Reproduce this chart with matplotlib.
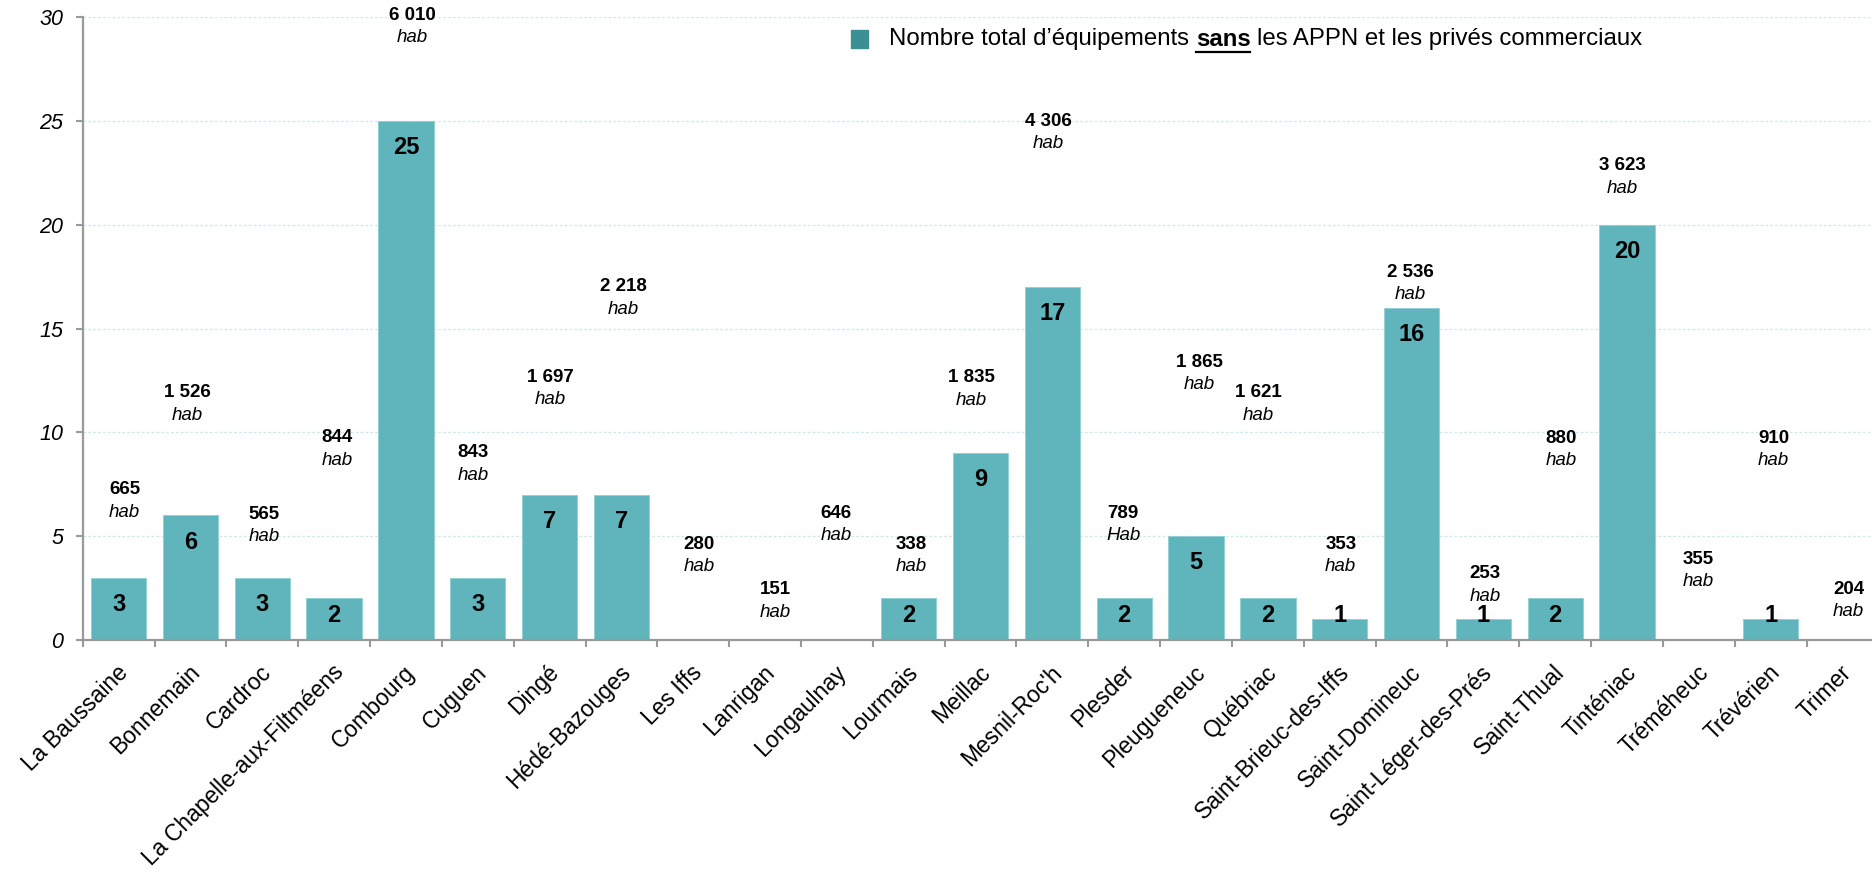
import matplotlib
matplotlib.use("Agg")
import matplotlib.pyplot as plt
from matplotlib.patches import Rectangle
from matplotlib.lines import Line2D
import matplotlib.transforms as mtransforms
import numpy as np

plt.rcParams["font.family"] = ["Liberation Sans", "DejaVu Sans"]

# ---------------- data ----------------
communes = [
    "La Baussaine", "Bonnemain", "Cardroc", "La Chapelle-aux-Filtméens",
    "Combourg", "Cuguen", "Dingé", "Hédé-Bazouges", "Les Iffs", "Lanrigan",
    "Longaulnay", "Lourmais", "Meillac", "Mesnil-Roc'h", "Plesder",
    "Pleugueneuc", "Québriac", "Saint-Brieuc-des-Iffs", "Saint-Domineuc",
    "Saint-Léger-des-Prés", "Saint-Thual", "Tinténiac", "Tréméheuc",
    "Trévérien", "Trimer",
]
equipements = [3, 6, 3, 2, 25, 3, 7, 7, 0, 0, 0, 2, 9, 17, 2, 5, 2, 1, 16, 1,
               2, 20, 0, 1, 0]
population = [665, 1526, 565, 844, 6010, 843, 1697, 2218, 280, 151, 646, 338,
              1835, 4306, 789, 1865, 1621, 353, 2536, 253, 880, 3623, 355,
              910, 204]
unit_labels = ["hab"] * 14 + ["Hab"] + ["hab"] * 10
legend_parts = ["Nombre total d’équipements", "sans",
                "les APPN et les privés commerciaux"]
yticks = [0, 5, 10, 15, 20, 25, 30]

# placement of population annotations (manual in the original chart)
pop_label_y = [7.23, 11.91, 6.07, 9.75, 30.1, 9.02, 12.65, 17.02, 4.62, 2.42,
               6.11, 4.61, 12.64, 24.98, 6.11, 13.37, 11.91, 4.62, 17.71, 3.18,
               9.73, 22.85, 3.89, 9.73, 2.44]
pop_label_dx_px = [6, -3, 2, 3, 6, -5, 1, 2, 6, 10, -1, 3, -9, -4, -1, 3, -10,
                   1, -1, 2, 6, -5, -1, 3, 6]

# ---------------- style ----------------
W, H = 1872, 872
DPI = 100
BAR_COLOR = "#60B5BC"
LEGEND_COLOR = "#3B9096"
AXIS_COLOR = "#999999"
GRID_COLOR = "#CFE9EC"

fig = plt.figure(figsize=(W / DPI, H / DPI), dpi=DPI)
fig.patch.set_facecolor("white")

n = len(communes)
cat_px = 71.83
left_px, bottom_px, top_px = 82.7, 640.0, 17.3
ax = fig.add_axes([left_px / W, 1 - bottom_px / H,
                   n * cat_px / W, (bottom_px - top_px) / H])

x = np.arange(n)
ax.bar(x, equipements, width=0.77, color=BAR_COLOR,
       edgecolor="#8ED0D5", linewidth=0.6, zorder=3)

ax.set_xlim(-0.5, n - 0.5)
ax.set_ylim(0, 30)

# grid
ax.set_yticks(yticks)
ax.set_yticklabels([str(v) for v in yticks], fontsize=15.5, style="italic")
for v in yticks[1:]:
    ax.axhline(v, color=GRID_COLOR, lw=1.0, ls=(0, (2, 1.5)), zorder=1)

# spines
for s in ["top", "right"]:
    ax.spines[s].set_visible(False)
for s in ["left", "bottom"]:
    ax.spines[s].set_color(AXIS_COLOR)
    ax.spines[s].set_linewidth(1.6)
    ax.spines[s].set_zorder(4)

ax.tick_params(axis="y", length=5, width=1.5, color=AXIS_COLOR, pad=9,
               labelcolor="black")

# x ticks: labels at centres, tick marks at boundaries
ax.set_xticks(x)
ax.set_xticklabels(communes, rotation=45, ha="right", va="top",
                   fontsize=16.5)
ax.tick_params(axis="x", which="major", length=0, pad=15)
ax.set_xticks(np.arange(n + 1) - 0.5, minor=True)
ax.tick_params(axis="x", which="minor", length=5, width=1.5,
               color=AXIS_COLOR)
shift = mtransforms.ScaledTranslation(14 / DPI, 0, fig.dpi_scale_trans)
for lab in ax.get_xticklabels():
    lab.set_transform(lab.get_transform() + shift)

# value labels inside bars
for xi, v in zip(x, equipements):
    if v <= 0:
        continue
    ax.text(xi, max(v - 1.28, 1.2), str(v), ha="center", va="center",
            fontsize=17, fontweight="bold", color="black", zorder=5)

# population labels
def fmt_pop(p):
    return f"{p:,}".replace(",", " ")

for xi, p, u, yy, dx in zip(x, population, unit_labels, pop_label_y,
                            pop_label_dx_px):
    off = mtransforms.offset_copy(ax.transData, fig=fig, x=dx * 72 / DPI,
                                  y=0, units="points")
    ax.text(xi, yy, fmt_pop(p), transform=off, ha="center", va="center",
            fontsize=13.5, fontweight="bold", color="black", zorder=6,
            clip_on=False)
    off2 = mtransforms.offset_copy(ax.transData, fig=fig, x=dx * 72 / DPI,
                                   y=-22.5 * 72 / DPI, units="points")
    ax.text(xi, yy, u, transform=off2, ha="center", va="center",
            fontsize=13.5, style="italic", color="black", zorder=6,
            clip_on=False)

# ---------------- legend (built manually for bold+underlined word) -------
fig.patches.append(Rectangle((851 / W, 1 - 48 / H), 17 / W, 18 / H,
                             transform=fig.transFigure, color=LEGEND_COLOR))
fig.canvas.draw()
r = fig.canvas.get_renderer()
ly = 1 - 39 / H
LFS = 17.3
gap = LFS * 0.278 * DPI / 72
t1 = fig.text(889 / W, ly, legend_parts[0], fontsize=LFS, va="center",
              ha="left")
bb1 = t1.get_window_extent(r)
t2 = fig.text((bb1.x1 + gap) / W, ly, legend_parts[1], fontsize=LFS,
              fontweight="bold", va="center", ha="left")
bb2 = t2.get_window_extent(r)
t3 = fig.text((bb2.x1 + gap) / W, ly, legend_parts[2], fontsize=LFS,
              va="center", ha="left")
fig.lines.append(Line2D([bb2.x0 / W, bb2.x1 / W], [1 - 52 / H, 1 - 52 / H],
                        transform=fig.transFigure, color="black", lw=1.6))

fig.savefig("out.png", dpi=DPI, facecolor="white")
